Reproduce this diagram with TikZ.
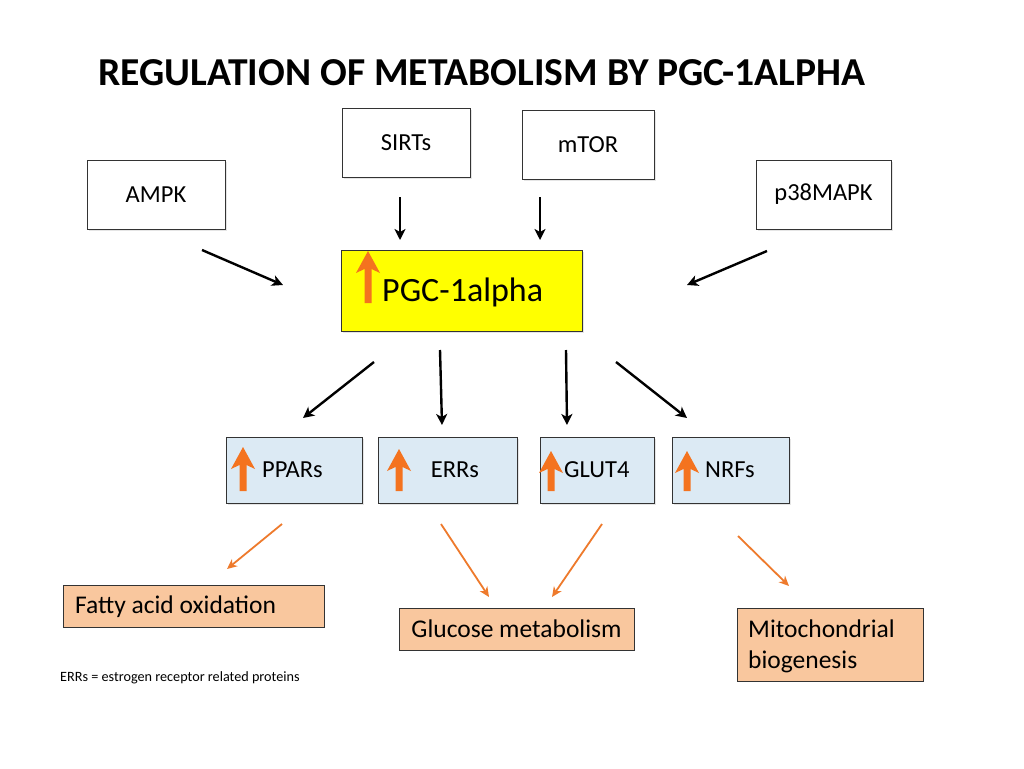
\documentclass[tikz,border=0pt]{standalone}
\usepackage{fontspec}
\setmainfont{Carlito}
\usetikzlibrary{arrows.meta,shadows}
\definecolor{pgcyellow}{HTML}{FFFF00}
\definecolor{lblue}{HTML}{DCEAF4}
\definecolor{peach}{HTML}{F9C79E}
\definecolor{uporange}{HTML}{F4731F}
\definecolor{thinorange}{HTML}{EE7A2C}
\tikzset{
  box/.style={draw=black!80, line width=0.9pt, fill=white, drop shadow={shadow xshift=2pt,shadow yshift=-2pt,fill=black!20}, font=\fontsize{24.5}{29}\selectfont, inner sep=0pt},
  bluebox/.style={box, fill=lblue},
  lbl/.style={font=\fontsize{24.5}{29}\selectfont},
  outbox/.style={draw=black!80, line width=0.8pt, fill=peach, font=\fontsize{25.5}{31}\selectfont, inner sep=0pt},
  outlbl/.style={font=\fontsize{25.5}{31}\selectfont},
  blk/.style={line width=2.4pt, -{Stealth[length=11pt,width=11pt,inset=3pt]}},
  org/.style={line width=1.8pt, draw=thinorange, -{Stealth[length=10pt,width=9pt,inset=3pt]}},
}
\newcommand{\uparr}[3]{% x, ytop, ybottom
  \fill[uporange] (#1-3.5,#3) -- (#1+3.5,#3) -- (#1+3.5,#2+18) -- (#1+12,#2+22) -- (#1,#2) -- (#1-12,#2+22) -- (#1-3.5,#2+18) -- cycle;}
\begin{document}
\begin{tikzpicture}[x=1pt,y=-1pt]
\useasboundingbox (0,0) rectangle (1024,768);
\fill[white] (0,0) rectangle (1024,768);
% title
\node[font=\fontsize{39.6}{46}\selectfont\bfseries, anchor=west] (title) at (95,73) {REGULATION OF METABOLISM BY PGC-1ALPHA};
% input boxes
\node[box, minimum width=128pt, minimum height=69pt] (sirts) at (406,142.5) {SIRTs};
\node[box, minimum width=132pt, minimum height=69pt] (mtor) at (588,144.5) {mTOR};
\node[box, minimum width=138pt, minimum height=69pt] (ampk) at (156,194.5) {AMPK};
\node[box, minimum width=135pt, minimum height=69pt] (p38) at (823.5,194.5) {p38MAPK};
% PGC
\node[box, fill=pgcyellow, minimum width=241pt, minimum height=81pt] (pgc) at (461.5,290.5) {};
\node[font=\fontsize{34}{40}\selectfont, anchor=west, inner sep=0pt] (pgct) at (382,292) {PGC-1alpha};
\uparr{368}{251}{303}
% targets
\node[bluebox, minimum width=136pt, minimum height=66pt] (ppar) at (294,470) {};
\node[lbl, anchor=west, inner sep=0pt] (ppart) at (262,470) {PPARs};
\uparr{243}{447}{491}
\node[bluebox, minimum width=139pt, minimum height=66pt] (err) at (447.5,470) {};
\node[lbl] (errt) at (455,470) {ERRs};
\uparr{399}{449}{491}
\node[bluebox, minimum width=114pt, minimum height=66pt] (glut) at (597,470) {};
\node[lbl, anchor=west, inner sep=0pt] (glutt) at (564,470) {GLUT4};
\uparr{551}{451}{491}
\node[bluebox, minimum width=117pt, minimum height=66pt] (nrf) at (730.5,470) {};
\node[lbl, anchor=west, inner sep=0pt] (nrft) at (705,470) {NRFs};
\uparr{687}{451}{491}
% outcomes
\node[outbox, minimum width=261pt, minimum height=42pt] (fao) at (193.5,606) {};
\node[outlbl, anchor=west, inner sep=0pt] (faot) at (75,607) {Fatty acid oxidation};
\node[outbox, minimum width=235pt, minimum height=42pt] (glu) at (516.5,629) {Glucose metabolism};
\node[outbox, minimum width=186pt, minimum height=73pt] (mito) at (830,644.5) {};
\node[outlbl, anchor=north west, align=left, inner sep=0pt] (mitot) at (748,620) {Mitochondrial\\biogenesis};
% footnote
\node[font=\fontsize{14.2}{17}\selectfont, anchor=west, inner sep=0pt] (foot) at (60,678) {ERRs = estrogen receptor related proteins};
% arrow coordinates
\coordinate (a1s) at (202,250); \coordinate (a1e) at (283,285);
\coordinate (a2s) at (400,197); \coordinate (a2e) at (400,240);
\coordinate (a3s) at (540,197); \coordinate (a3e) at (540,240);
\coordinate (a4s) at (767,251); \coordinate (a4e) at (687,285);
\coordinate (b1s) at (374,362); \coordinate (b1e) at (303,418);
\coordinate (b2s) at (440,350); \coordinate (b2e) at (442,425);
\coordinate (b3s) at (566,350); \coordinate (b3e) at (567,425);
\coordinate (b4s) at (616,362); \coordinate (b4e) at (687,418);
\coordinate (c1s) at (282,524); \coordinate (c1e) at (227,569);
\coordinate (c2s) at (441,524); \coordinate (c2e) at (489,597);
\coordinate (c3s) at (602,524); \coordinate (c3e) at (552,597);
\coordinate (c4s) at (738,536); \coordinate (c4e) at (789,586);
\draw[blk] (a1s) -- (a1e);
\draw[blk] (a2s) -- (a2e);
\draw[blk] (a3s) -- (a3e);
\draw[blk] (a4s) -- (a4e);
\draw[blk] (b1s) -- (b1e);
\draw[blk] (b2s) -- (b2e);
\draw[blk] (b3s) -- (b3e);
\draw[blk] (b4s) -- (b4e);
\draw[org] (c1s) -- (c1e);
\draw[org] (c2s) -- (c2e);
\draw[org] (c3s) -- (c3e);
\draw[org] (c4s) -- (c4e);
\end{tikzpicture}
\end{document}
